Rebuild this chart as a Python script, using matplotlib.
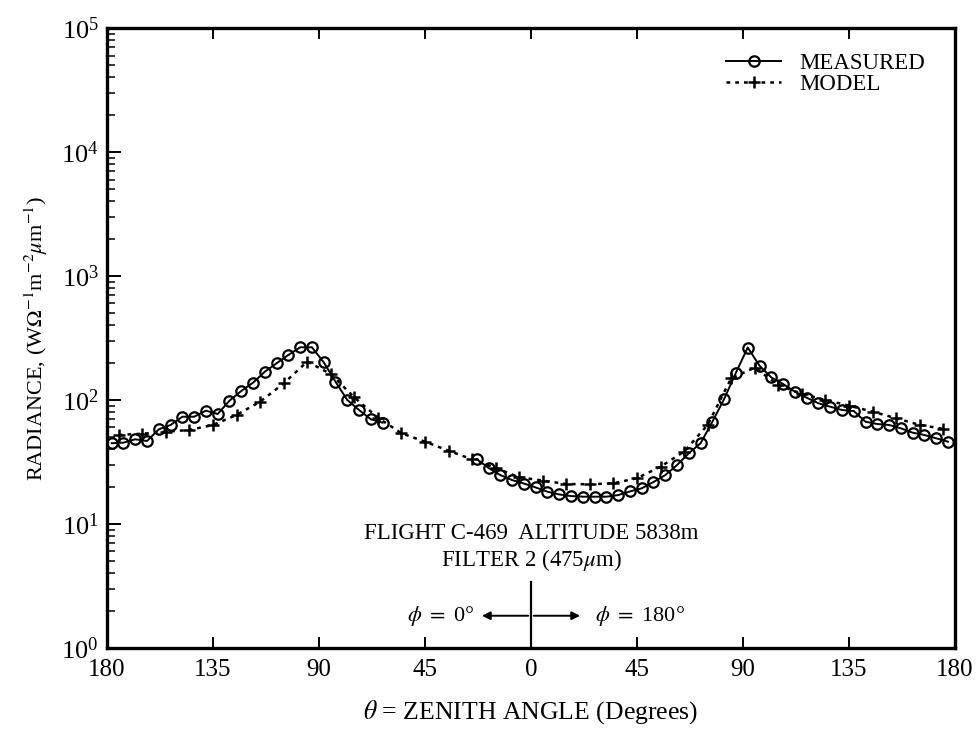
"""Sky radiance versus zenith angle, measured against model (log scale)."""

import matplotlib

matplotlib.use("Agg")
import matplotlib.pyplot as plt
from matplotlib.ticker import FixedLocator, LogLocator, NullFormatter

# Zenith angle is signed: negative is the phi = 0 side, positive is phi = 180.
meas_left_angle = [-178, -173, -168, -163, -158, -153, -148, -143, -138, -133,
                   -128, -123, -118, -113, -108, -103, -98, -93, -88, -83,
                   -78, -73, -68, -63]
meas_left_value = [44.8, 45.3, 48.2, 46.7, 58.0, 62.9, 73.3, 73.3, 82.0, 77.1,
                   98.7, 118.2, 138.0, 169.1, 197.7, 230.7, 266.0, 266.0, 201.4, 140.5,
                   100.0, 83.0, 69.9, 65.6]

meas_right_angle = [-23, -18, -13, -8, -3, 2, 7, 12, 17, 22, 27, 32, 37, 42,
                    47, 52, 57, 62, 67, 72, 77, 82, 87, 92, 97, 102, 107, 112,
                    117, 122, 127, 132, 137, 142, 147, 152, 157, 162, 167, 172, 177]
meas_right_value = [33.3, 28.3, 24.8, 22.6, 21.2, 19.7, 18.2, 17.3, 16.8, 16.6,
                    16.6, 16.6, 17.1, 18.3, 19.4, 21.8, 24.8, 29.9, 37.2, 44.8,
                    66.8, 101.9, 166.0, 265.0, 189.0, 152.0, 134.5, 116.7, 104.4, 94.1,
                    88.3, 83.0, 81.5, 66.8, 64.0, 62.9, 59.1, 54.5, 52.2, 49.1, 46.1]

model_angle = [-175, -165, -155, -145, -135, -125, -115, -105, -95, -85, -75,
               -65, -55, -45, -35, -25, -15, -5, 5, 15, 25, 35, 45, 55, 65,
               75, 85, 95, 105, 115, 125, 135, 145, 155, 165, 175]
model_value = [52.2, 53.5, 55.5, 57.3, 62.9, 75.7, 96.9, 136.0, 204.0, 162.0, 105.0,
               72.0, 53.9, 46.1, 39.0, 33.2, 28.3, 23.8, 22.4, 21.0, 20.9, 21.3,
               23.4, 29.0, 38.3, 63.0, 150.0, 182.0, 132.0, 112.0, 100.0, 90.0,
               80.5, 71.2, 62.9, 58.5]

x_ticks = [-180, -135, -90, -45, 0, 45, 90, 135, 180]
x_tick_labels = ["180", "135", "90", "45", "0", "45", "90", "135", "180"]

plt.rcParams["font.family"] = ["Liberation Serif", "DejaVu Serif"]
plt.rcParams["mathtext.fontset"] = "stix"

fig = plt.figure(figsize=(9.78, 7.33), dpi=100)
ax = fig.add_axes([0.1094, 0.116, 0.8671, 0.8458])

meas_style = dict(color="black", linestyle="-", linewidth=1.4, marker="o",
                  markersize=7.5, markerfacecolor="none", markeredgewidth=1.6)
ax.plot(meas_left_angle, meas_left_value, label="MEASURED", **meas_style)
ax.plot(meas_right_angle, meas_right_value, **meas_style)
ax.plot(model_angle, model_value, color="black", linestyle=(0, (1.5, 2.0)),
        linewidth=1.8, marker="+", markersize=8, markeredgewidth=1.8,
        label="MODEL")

ax.set_yscale("log")
ax.set_ylim(1, 1e5)
ax.set_xlim(-180, 180)

ax.xaxis.set_major_locator(FixedLocator(x_ticks))
ax.set_xticklabels(x_tick_labels)
ax.yaxis.set_major_locator(LogLocator(base=10, numticks=10))
ax.yaxis.set_minor_locator(LogLocator(base=10, subs=range(2, 10), numticks=20))
ax.yaxis.set_minor_formatter(NullFormatter())

ax.tick_params(axis="x", which="major", direction="in", length=8, width=1.4,
               labelsize=18, pad=8, top=True)
ax.tick_params(axis="y", which="major", direction="in", length=10, width=1.4,
               labelsize=19, pad=6)
ax.tick_params(axis="y", which="minor", direction="in", length=6, width=1.1)
for spine in ax.spines.values():
    spine.set_linewidth(2.4)

ax.set_xlabel(r"$\theta$ = ZENITH ANGLE (Degrees)", fontsize=18.5, labelpad=12)
ax.set_ylabel(r"RADIANCE, (W$\Omega^{-1}$m$^{-2}\mu$m$^{-1}$)", fontsize=16,
              labelpad=8)

# Flight annotation and the phi direction marker at the nadir line
ax.text(0, 0.185, "FLIGHT C-469  ALTITUDE 5838m", transform=ax.get_xaxis_transform(),
        ha="center", va="center", fontsize=16.5)
ax.text(0, 0.142, r"FILTER 2 (475$\mu$m)", transform=ax.get_xaxis_transform(),
        ha="center", va="center", fontsize=16.5)
ax.plot([0, 0], [0.0, 0.107], color="black", linewidth=1.6,
        transform=ax.get_xaxis_transform())
ax.annotate("", xy=(-22, 0.052), xytext=(0, 0.052), xycoords=ax.get_xaxis_transform(),
            arrowprops=dict(arrowstyle="-|>", color="black", lw=1.4, mutation_scale=12))
ax.annotate("", xy=(22, 0.052), xytext=(0, 0.052), xycoords=ax.get_xaxis_transform(),
            arrowprops=dict(arrowstyle="-|>", color="black", lw=1.4, mutation_scale=12))
ax.text(-24, 0.052, r"$\phi$ $=$ 0°", transform=ax.get_xaxis_transform(),
        ha="right", va="center", fontsize=16)
ax.text(27, 0.052, r"$\phi$ $=$ 180°", transform=ax.get_xaxis_transform(),
        ha="left", va="center", fontsize=16)

ax.legend(loc="upper right", bbox_to_anchor=(0.965, 0.96), frameon=False,
          fontsize=16.5, handlelength=2.4, handletextpad=0.8, labelspacing=0.0,
          borderpad=0, borderaxespad=0)

fig.savefig("out.png", dpi=100)
plt.close(fig)
